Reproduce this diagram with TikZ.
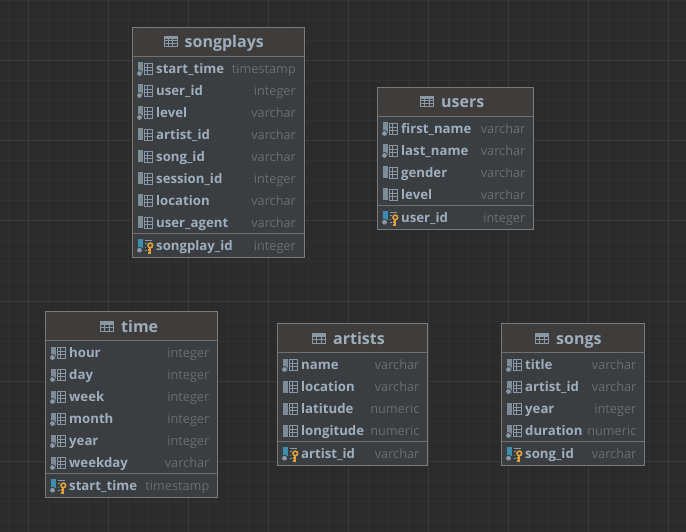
\documentclass[tikz,border=0pt]{standalone}
\usepackage{fontspec}
\setmainfont{Open Sans}
\definecolor{canvasbg}{HTML}{2B2B2B}
\definecolor{gridminor}{HTML}{313131}
\definecolor{gridmajor}{HTML}{3A3A3A}
\definecolor{headbg}{HTML}{3E3D3C}
\definecolor{bodybg}{HTML}{3A3E41}
\definecolor{frameclr}{HTML}{7A7A7A}
\definecolor{sepclr}{HTML}{6E7072}
\definecolor{namecol}{HTML}{A0AEBC}
\definecolor{typecol}{HTML}{6A6E70}
\definecolor{iconcol}{HTML}{8A98A5}
\definecolor{barcol}{HTML}{7E8C96}
\definecolor{pkcol}{HTML}{3D8DAF}
\definecolor{keycol}{HTML}{E0A33A}
\tikzset{
  tablebox/.style={draw=frameclr,line width=1pt,fill=bodybg,rectangle,inner sep=0pt,outer sep=0pt},
  titletext/.style={anchor=base west,inner sep=0pt,text=namecol,font=\fontsize{16}{17}\selectfont\bfseries},
  nametext/.style={anchor=base west,inner sep=0pt,text=namecol,font=\fontsize{13.2}{14}\selectfont\bfseries},
  typetext/.style={anchor=base east,inner sep=0pt,text=typecol,font=\fontsize{12.7}{14}\selectfont}
}
\newcommand{\gridglyph}[4]{%
  \draw[#3,line width=0.9pt] (#1,#2-5.5) rectangle (#1+#4,#2+5.5);
  \draw[#3,line width=0.9pt] (#1+3,#2-5.5) -- (#1+3,#2+5.5)
    (#1,#2-1.8) -- (#1+#4,#2-1.8) (#1,#2+1.8) -- (#1+#4,#2+1.8);
}
\newcommand{\colicon}[3]{%
  \fill[barcol] (#1+5.5,#2-6.5) rectangle (#1+10,#2+5.5);
  \gridglyph{#1+12}{#2}{iconcol}{7.8}
  \ifnum#3=1
    \fill[bodybg] (#1+7,#2+4.5) circle (3.4);
    \fill[iconcol] (#1+7,#2+4.5) circle (2.4);
  \fi
}
\newcommand{\keyicon}[2]{%
  \fill[pkcol] (#1+5.5,#2-6.5) rectangle (#1+10,#2+2);
  \draw[iconcol,line width=0.9pt] (#1+12,#2-5.5) -- (#1+19.8,#2-5.5)
     (#1+12,#2-2) -- (#1+14.5,#2-2) (#1+12,#2+1.5) -- (#1+14,#2+1.5) (#1+12,#2+5) -- (#1+14.5,#2+5);
  \fill[bodybg] (#1+7,#2+4.5) circle (3.4);
  \fill[iconcol] (#1+7,#2+4.5) circle (2.4);
  \fill[bodybg] (#1+17.8,#2+1.5) circle (4.6);
  \draw[keycol,line width=1.6pt] (#1+17.8,#2-0.3) circle (2.3);
  \draw[keycol,line width=1.8pt] (#1+17.8,#2+2) -- (#1+17.8,#2+8) (#1+17.8,#2+4.3) -- (#1+15.4,#2+4.3) (#1+17.8,#2+7) -- (#1+15.4,#2+7);
}
\newcommand{\headglyph}[2]{%
  \draw[iconcol,line width=1pt] (#1+.5,#2-5) rectangle (#1+13.5,#2+5);
  \draw[iconcol,line width=1pt] (#1+.5,#2-1.8) -- (#1+13.5,#2-1.8) (#1+.5,#2+1.6) -- (#1+13.5,#2+1.6)
    (#1+4.8,#2-5) -- (#1+4.8,#2+5) (#1+9.2,#2-5) -- (#1+9.2,#2+5);
  \fill[iconcol] (#1+.5,#2-5) rectangle (#1+13.5,#2-2.5);
}
% id, x0, x1, ytop, icon x, title, rows
\newcommand{\dbtable}[7]{%
  \def\curid{#1}\def\curxa{#2}\def\curxb{#3}\def\curicon{#5}\def\curtitle{#6}\def\currows{#7}%
  \pgfmathsetmacro{\yT}{#4}%
  \pgfmathsetmacro{\yH}{#4+29}%
  \dbtablecont
}
% number of rows, key name, key type
\newcommand{\dbtablecont}[3]{%
  \pgfmathsetmacro{\yS}{\yH+22*#1+1}
  \pgfmathsetmacro{\yB}{\yS+24}
  \pgfmathsetmacro{\xC}{(\curxa+\curxb)/2}
  \pgfmathsetmacro{\yC}{(\yT+\yB)/2}
  \pgfmathsetmacro{\wW}{\curxb-\curxa}
  \pgfmathsetmacro{\hH}{\yB-\yT}
  \node[tablebox,minimum width=\wW pt,minimum height=\hH pt] (\curid) at (\xC,\yC) {};
  \fill[headbg] (\curxa+.5,\yT+.5) rectangle (\curxb-.5,\yH);
  \draw[sepclr,line width=1pt] (\curxa,\yH) -- (\curxb,\yH) (\curxa,\yS) -- (\curxb,\yS);
  \headglyph{\curicon}{\yT+14.5}
  \node[titletext] (\curid-title) at (\curicon+21,\yT+20.5) {\curtitle};
  \foreach \nm/\ty/\dt [count=\i from 0] in \currows {
    \pgfmathsetmacro{\yR}{\yH+12.5+22*\i}
    \colicon{\curxa}{\yR}{\dt}
    \node[nametext] (\curid-n\i) at (\curxa+23.5,\yR+4.5) {\nm};
    \node[typetext] (\curid-t\i) at (\curxb-8,\yR+4.5) {\ty};
  }
  \pgfmathsetmacro{\yK}{\yS+12.2}
  \keyicon{\curxa}{\yK}
  \node[nametext] (\curid-keyname) at (\curxa+23.5,\yK+4.5) {#2};
  \node[typetext] (\curid-keytype) at (\curxb-8,\yK+4.5) {#3};
  \draw[frameclr,line width=1pt] (\curxa,\yT) rectangle (\curxb,\yB);
}
\begin{document}
\begin{tikzpicture}[x=1pt,y=-1pt]
\useasboundingbox (0,0) rectangle (686,532);
\fill[canvasbg] (0,0) rectangle (686,532);
\foreach \k in {0,...,34} {\draw[gridminor,line width=1pt] ({8+20*\k},0) -- ({8+20*\k},532);}
\foreach \k in {0,...,26} {\draw[gridminor,line width=1pt] (0,{1+20*\k}) -- (686,{1+20*\k});}
\foreach \k in {0,...,8} {\draw[gridmajor,line width=1pt] ({28+80*\k},0) -- ({28+80*\k},532);}
\foreach \k in {0,...,5} {\draw[gridmajor,line width=1pt] (0,{61+80*\k}) -- (686,{61+80*\k});}

\dbtable{songplays}{132.5}{304}{27.5}{163.5}{songplays}{start\_time/timestamp/1,user\_id/integer/1,level/varchar/1,artist\_id/varchar/0,song\_id/varchar/0,session\_id/integer/0,location/varchar/0,user\_agent/varchar/0}{8}{songplay\_id}{integer}
\dbtable{users}{377.5}{533.5}{87.5}{420}{users}{first\_name/varchar/1,last\_name/varchar/1,gender/varchar/0,level/varchar/0}{4}{user\_id}{integer}
\dbtable{time}{45.5}{217.5}{311.5}{100}{time}{hour/integer/1,day/integer/1,week/integer/1,month/integer/1,year/integer/1,weekday/varchar/1}{6}{start\_time}{timestamp}
\dbtable{artists}{277.5}{427.5}{323.5}{312}{artists}{name/varchar/1,location/varchar/0,latitude/numeric/0,longitude/numeric/0}{4}{artist\_id}{varchar}
\dbtable{songs}{501.5}{644.5}{323.5}{535}{songs}{title/varchar/1,artist\_id/varchar/1,year/integer/0,duration/numeric/1}{4}{song\_id}{varchar}
\end{tikzpicture}
\end{document}
